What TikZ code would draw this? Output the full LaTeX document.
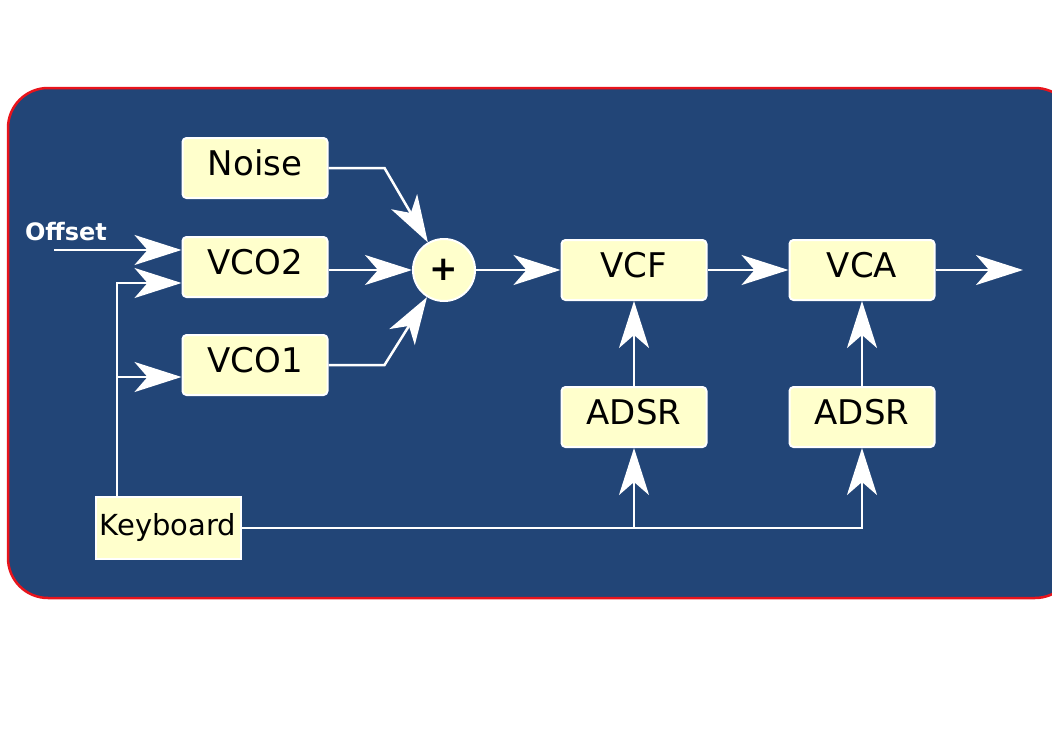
\documentclass[tikz,border=0pt]{standalone}
\usepackage{fontspec}
\setmainfont{DejaVu Sans}
\usetikzlibrary{arrows.meta,positioning,calc}
\definecolor{PanelBlue}{HTML}{224577}
\definecolor{PanelRim}{HTML}{E8141C}
\definecolor{BoxCream}{HTML}{FFFFCC}
\tikzset{
  % Synth module box
  mod/.style={
    rectangle, rounded corners=4pt,
    draw=white, fill=BoxCream, line width=2pt,
    minimum width=145pt, minimum height=60pt, inner sep=0pt,
    text height=25pt, text depth=10pt,
    font=\fontsize{34}{40}\selectfont
  },
  % Mixer circle
  sum/.style={
    circle, draw=white, fill=BoxCream, line width=2pt,
    minimum size=62pt, inner sep=0pt,
    font=\fontsize{34}{40}\selectfont\bfseries
  },
  % Signal wire
  wire/.style={draw=white, line width=2.5pt},
  % Arrow
  arr/.style={
    wire, -{Stealth[length=47pt,width=30pt,inset=13pt]}
  },
  % Input label
  lbl/.style={text=white, font=\fontsize{24}{28}\selectfont\bfseries}
}
\begin{document}
\begin{tikzpicture}[x=1pt, y=-1pt]
  \clip (0,0) rectangle (1052,744);
  \fill[white] (0,0) rectangle (1052,744);
  % Blue panel, runs past the right edge
  \draw[fill=PanelBlue, draw=PanelRim, line width=2.5pt, rounded corners=40pt]
    (8,88) rectangle (1075,598);

  % Oscillators and noise
  \node[mod] (vco2) at (255,267) {VCO2};
  \node[mod, above=37pt of vco2] (noise) {Noise};
  \node[mod, below=36pt of vco2] (vco1) {VCO1};
  \node[sum] (plus) at (444,270) {+};

  % Filter and amplifier with envelopes
  \node[mod] (vcf) at (634,270) {VCF};
  \node[mod, right=81pt of vcf] (vca) {VCA};
  \node[mod, below=85pt of vcf] (adsr1) {ADSR};
  \node[mod, below=85pt of vca] (adsr2) {ADSR};

  % Keyboard
  \node[mod, rounded corners=0pt, minimum height=62pt,
        text height=21pt, text depth=7pt,
        font=\fontsize{29}{34}\selectfont] (kbd) at (168,528) {Keyboard};

  % Offset input
  \node[lbl] (offset) at (66,232) {Offset};
  \coordinate (offin) at (54,250);
  \coordinate (kv2) at (117,283);
  \coordinate (kv1) at (117,377);
  \coordinate (out) at (1023,270);

  \draw[arr] (offin) -- (offin -| vco2.west);
  \draw[arr] (kbd.north -| kv2) -- (kv2) -- (kv2 -| vco2.west);
  \draw[arr] (kv1) -- (kv1 -| vco1.west);

  \draw[arr] (noise.east) -- ++(56,0) -- (plus);
  \draw[arr] (vco2.east |- plus) -- (plus);
  \draw[arr] (vco1.east) -- ++(56,0) -- (plus);
  \draw[arr] (plus) -- (vcf);
  \draw[arr] (vcf) -- (vca);
  \draw[arr] (vca) -- (out);

  \draw[arr] (adsr1) -- (vcf);
  \draw[arr] (adsr2) -- (vca);
  \draw[arr] (kbd.east) -| (adsr2.south);
  \draw[arr] (kbd.east -| adsr1.south) -- (adsr1.south);
\end{tikzpicture}
\end{document}
